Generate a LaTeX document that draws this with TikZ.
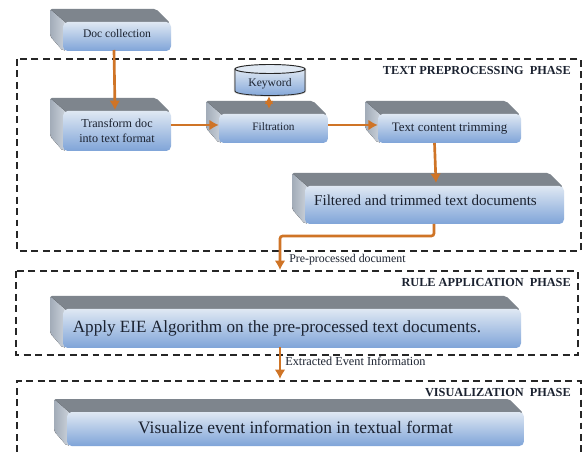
\documentclass[tikz,border=0pt]{standalone}
\usepackage{fontspec}
\setmainfont{Liberation Serif}
\usetikzlibrary{arrows.meta}
\definecolor{topface}{HTML}{7E858D}
\definecolor{sideL}{HTML}{A2ACB8}
\definecolor{sideR}{HTML}{CDD4DC}
\definecolor{frontT}{HTML}{DFE8F3}
\definecolor{frontB}{HTML}{7FA4D8}
\definecolor{flow}{HTML}{CF7426}
\definecolor{ink}{HTML}{1B2230}
\tikzset{
  x=0.75pt,y=-0.75pt,
  phase/.style={draw=black!85,line width=0.85pt,dash pattern=on 5.2pt off 3.4pt},
  phaselabel/.style={anchor=east,inner sep=0pt,font=\fontsize{9.2pt}{11pt}\selectfont\bfseries,text=ink},
  note/.style={anchor=west,inner sep=0pt,font=\fontsize{8.9pt}{10pt}\selectfont,text=ink},
  flowline/.style={draw=flow,line width=2pt,rounded corners=2pt,-{Latex[length=7pt,width=8pt]}},
  frontface/.style={rounded corners=3.5pt,inner sep=0pt,top color=frontT,bottom color=frontB,align=center,text=ink},
}
% name, x1, y1, x2, y2, font size (pt), text
\newcommand{\threedbox}[7]{%
  \fill[topface,rounded corners=1.5pt] (#2-13,#3-13) -- (#4-15,#3-13) -- (#4-1,#3+1) -- (#2,#3+1) -- cycle;
  \fill[left color=sideL,right color=sideR,rounded corners=1.5pt] (#2-13,#3-13) -- (#2+3,#3+1) -- (#2+3,#5-1) -- (#2,#5) -- (#2-13,#5-15) -- cycle;
  \pgfmathsetlengthmacro{\boxw}{(#4-#2)*0.75pt}%
  \pgfmathsetlengthmacro{\boxh}{(#5-#3)*0.75pt}%
  \node[frontface,minimum width=\boxw,minimum height=\boxh,font=\fontsize{#6pt}{1.25\dimexpr#6pt\relax}\selectfont] (#1) at ({(#2+#4)/2},{(#3+#5)/2}) {#7};
}
\begin{document}
\begin{tikzpicture}
\useasboundingbox (0,0) rectangle (582,452);
\fill[white] (0,0) rectangle (582,452);

% phase frames
\draw[phase] (17,59) rectangle (581,251);
\draw[phase] (16,271) rectangle (578,355);
\draw[phase] (17,452) -- (17,381) -- (581,381) -- (581,452);
\node[phaselabel] (lt) at (571,71) {TEXT PREPROCESSING\ \ PHASE};
\node[phaselabel] (lr) at (571,283) {RULE APPLICATION\ \ PHASE};
\node[phaselabel] (lv) at (571,393) {VISUALIZATION\ \ PHASE};

% boxes
\threedbox{doc}{63}{22}{171}{51}{8.7}{\raisebox{4.5pt}{Doc collection}}
\threedbox{trans}{63}{111}{171}{151}{9.1}{Transform doc\\into text format}
\threedbox{filt}{219}{114}{328}{143}{8.5}{\raisebox{3.5pt}{Filtration}}
\threedbox{trim}{378}{114}{521}{143}{9.7}{Text content trimming}
\threedbox{filtered}{305}{186}{564}{224}{11.3}{\raisebox{6.8pt}{Filtered and trimmed text documents}\hspace{13.5pt}}
\threedbox{apply}{63}{309}{521}{348}{12.85}{Apply EIE Algorithm on the pre-processed text documents.\hspace{22.5pt}}
\threedbox{vis}{67}{412}{524}{446}{13.1}{\raisebox{3pt}{Visualize event information in textual format}}

% keyword store
\draw[black!20,line width=1.6pt] (235,69) -- (235,91) .. controls (235,97) and (305,97) .. (305,91) -- (305,69);
\draw[black!85,line width=0.6pt,top color=frontT,bottom color=frontB]
  (235,69) -- (235,91) .. controls (235,97) and (305,97) .. (305,91) -- (305,69) -- cycle;
\draw[black!85,line width=0.7pt,fill=frontT] (270,69) ellipse[x radius=35,y radius=4.5];
\node[inner sep=0pt,font=\fontsize{8.7pt}{10pt}\selectfont,text=ink] (kw) at (270,84) {Keyword};

% connectors
\coordinate (a1) at (114,50);
\coordinate (a2) at (115,110);
\draw[flowline] (a1) -- (a2);
\draw[flowline] (trans.east |- 0,125) -- (filt.west |- 0,125);
\draw[flowline] (filt.east |- 0,125) -- (trim.west |- 0,125);
\coordinate (k1) at (269,96);
\coordinate (k2) at (269,109);
\draw[draw=flow,line width=1.5pt,{Latex[length=6pt,width=6.5pt]}-{Latex[length=6pt,width=6.5pt]}] (k1) -- (k2);
\coordinate (b1) at (434.5,143);
\coordinate (b2) at (436,183);
\draw[flowline] (b1) -- (b2);
\coordinate (c1) at (434,224);
\coordinate (c2) at (280,270);
\draw[flowline] (c1) -- (434,236) -- (280,236) -- (c2);
\coordinate (d1) at (280,347);
\coordinate (d2) at (280,379);
\draw[flowline] (d1) -- (d2);

\node[note] (pp) at (289,260) {Pre-processed document};
\node[note,font=\fontsize{9.2pt}{10pt}\selectfont] (ee) at (285,361) {Extracted Event Information};
\end{tikzpicture}
\end{document}
